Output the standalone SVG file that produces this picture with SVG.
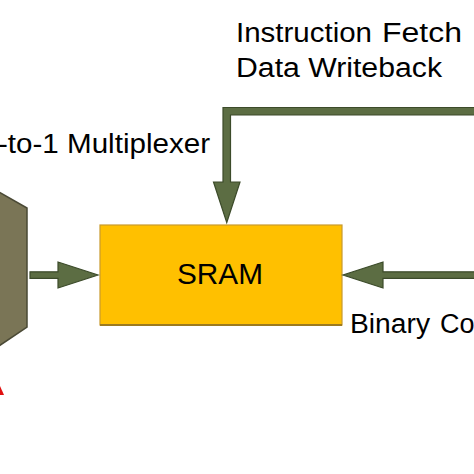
<svg xmlns="http://www.w3.org/2000/svg" width="474" height="474" viewBox="0 0 474 474">
  <style>
    .lbl { font-family: "Liberation Sans", Arial, sans-serif; font-size: 27px; fill: #000; }
    .arrow { fill: #5c6d43; stroke: #3c4b2a; stroke-width: 1.2; stroke-linejoin: miter; }
  </style>
  <rect width="474" height="474" fill="#ffffff"/>

  <g id="mux">
    <polygon points="-10,187 27,208 27,327 -10,352" fill="#7a7556" stroke="#4a4935" stroke-width="1.5"/>
  </g>

  <g id="sram">
    <rect x="100" y="225" width="242" height="100" fill="#FFC000" stroke="#c99a2e" stroke-width="1.2"/>
    <line x1="100" y1="325" x2="342" y2="325" stroke="#9c7a20" stroke-width="2"/>
    <text x="220" y="284" text-anchor="middle" class="lbl" style="font-size:29.5px" textLength="86" lengthAdjust="spacingAndGlyphs">SRAM</text>
  </g>

  <g id="connectors">
    <polygon class="arrow" points="476,107.5 223,107.5 223,182 213.5,182 226.75,222.5 240,182 230.5,182 230.5,115 476,115"/>
    <polygon class="arrow" points="30,271.8 58,271.8 58,262 98,275 58,288 58,278.4 30,278.4"/>
    <polygon class="arrow" points="476,271.8 383,271.8 383,262 343,275 383,288 383,278.4 476,278.4"/>
  </g>

  <g id="labels">
    <text x="236" y="42" class="lbl" textLength="136" lengthAdjust="spacingAndGlyphs">Instruction</text>
    <text x="382" y="42" class="lbl" textLength="80" lengthAdjust="spacingAndGlyphs">Fetch</text>
    <text x="236" y="77" class="lbl" textLength="206" lengthAdjust="spacingAndGlyphs">Data Writeback</text>
    <text x="-2" y="153" class="lbl" textLength="212" lengthAdjust="spacingAndGlyphs">-to-1 Multiplexer</text>
    <text x="350" y="333" class="lbl" textLength="80" lengthAdjust="spacingAndGlyphs">Binary</text>
    <text x="440" y="333" class="lbl">Co</text>
  </g>

  <polygon points="0,386 4,395 0,395" fill="#e01010"/>
</svg>
